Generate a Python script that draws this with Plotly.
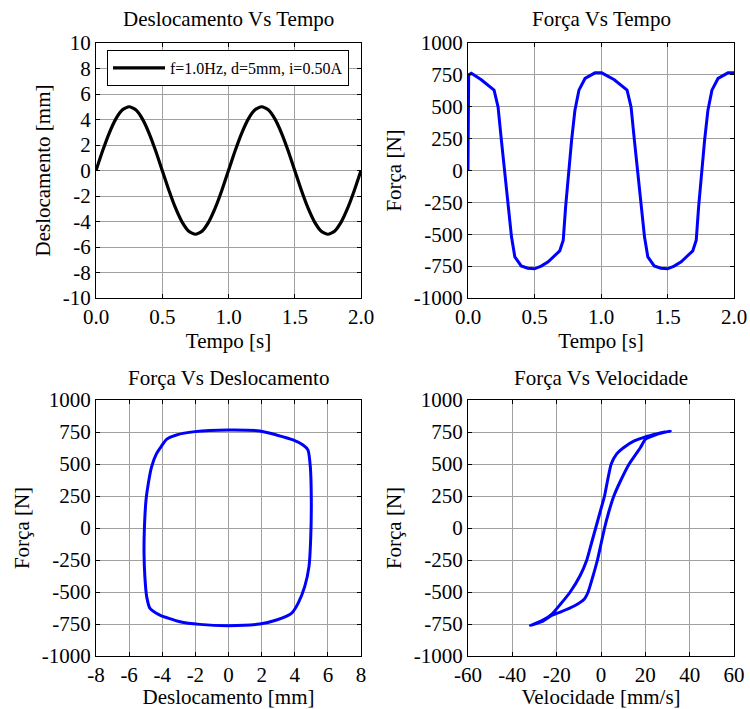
import plotly.graph_objects as go

# ---------------- data ----------------
disp_time_s = [0.00, 0.05, 0.10, 0.15, 0.20, 0.25, 0.30, 0.35, 0.40, 0.45,
               0.50, 0.55, 0.60, 0.65, 0.70, 0.75, 0.80, 0.85, 0.90, 0.95,
               1.00, 1.05, 1.10, 1.15, 1.20, 1.25, 1.30, 1.35, 1.40, 1.45,
               1.50, 1.55, 1.60, 1.65, 1.70, 1.75, 1.80, 1.85, 1.90, 1.95, 2.00]
disp_mm = [0.0, 1.55, 2.94, 4.05, 4.76, 5.00, 4.76, 4.05, 2.94, 1.55,
           0.0, -1.55, -2.94, -4.05, -4.76, -5.00, -4.76, -4.05, -2.94, -1.55,
           0.0, 1.55, 2.94, 4.05, 4.76, 5.00, 4.76, 4.05, 2.94, 1.55,
           0.0, -1.55, -2.94, -4.05, -4.76, -5.00, -4.76, -4.05, -2.94, -1.55, 0.0]

force_time_s = [0.000, 0.005, 0.025, 0.100, 0.196, 0.226, 0.251, 0.276, 0.300, 0.327,
                0.352, 0.400, 0.450, 0.500, 0.550, 0.603, 0.690, 0.716, 0.734, 0.754,
                0.779, 0.804, 0.834, 0.880, 0.955, 1.005, 1.100, 1.196, 1.226, 1.251,
                1.276, 1.300, 1.327, 1.352, 1.400, 1.450, 1.500, 1.550, 1.603, 1.690,
                1.716, 1.734, 1.754, 1.779, 1.804, 1.834, 1.880, 1.955, 2.000]
force_N = [0, 750, 762, 712, 630, 499, 238, -24, -285, -520,
           -677, -748, -766, -771, -750, -716, -630, -546, -285, -24,
           238, 473, 630, 722, 766, 766, 712, 630, 499, 238,
           -24, -285, -520, -677, -748, -766, -771, -750, -716, -630,
           -546, -285, -24, 238, 473, 630, 722, 766, 766]

loop_disp_mm = [0, 1.89, 2.89, 3.9, 4.5, 4.8, 4.94, 5.0, 4.96, 4.86,
                4.6, 4.2, 3.8, 2.9, 1.89, 0, -1.73, -2.93, -4.14, -4.74,
                -4.94, -5.05, -5.1, -5.08, -4.98, -4.84, -4.64, -4.34, -4.04, -3.74,
                -3.14, -2.03, 0]
loop_force_N = [766, 758, 727, 688, 648, 609, 479, 219, -94, -302,
                -458, -589, -667, -719, -750, -763, -753, -732, -680, -628,
                -536, -380, -198, -10, 219, 349, 479, 583, 641, 693,
                727, 753, 766]

vel_mm_s = [31.3, 25.0, 20.0, 15.0, 10.3, 7.0, 4.6, 3.0, 1.6, -0.4,
            -2.4, -4.4, -6.4, -9.5, -13.9, -18.5, -22.0, -26.0, -31.8, -26.0,
            -22.6, -18.1, -12.1, -7.6, -5.8, -3.6, -1.6, 0.0, 1.6, 3.5,
            5.8, 9.0, 12.7, 17.8, 20.1, 25.3, 31.3]
vel_force_N = [758, 735, 712, 680, 629, 577, 500, 375, 250, 125,
               0, -125, -250, -375, -500, -600, -670, -718, -763, -725,
               -686, -655, -609, -557, -500, -375, -250, -125, 0, 125,
               250, 375, 500, 629, 694, 732, 758]

# tick labels
time_ticks = [0.0, 0.5, 1.0, 1.5, 2.0]
time_labels = ["0.0", "0.5", "1.0", "1.5", "2.0"]
disp_ticks = [-10, -8, -6, -4, -2, 0, 2, 4, 6, 8, 10]
disp_labels = ["-10", "-8", "-6", "-4", "-2", "0", "2", "4", "6", "8", "10"]
force_ticks = [-1000, -750, -500, -250, 0, 250, 500, 750, 1000]
force_labels = ["-1000", "-750", "-500", "-250", "0", "250", "500", "750", "1000"]
dispx_ticks = [-8, -6, -4, -2, 0, 2, 4, 6, 8]
dispx_labels = ["-8", "-6", "-4", "-2", "0", "2", "4", "6", "8"]
vel_ticks = [-60, -40, -20, 0, 20, 40, 60]
vel_labels = ["-60", "-40", "-20", "0", "20", "40", "60"]

legend_label = "f=1.0Hz, d=5mm, i=0.50A"
titles = ["Deslocamento Vs Tempo", "Força Vs Tempo",
          "Força Vs Deslocamento", "Força Vs Velocidade"]

# ---------------- figure ----------------
FONT = "Liberation Serif"
W, H = 750, 709
ML, MR, MT, MB = 96, 16, 43, 53
PW, PH = W - ML - MR, H - MT - MB


def px_x(p):
    return (p - ML) / PW


def px_y(p):
    return (H - MB - p) / PH


fig = go.Figure()

blue = "#0000ff"
fig.add_trace(go.Scatter(x=disp_time_s, y=disp_mm, mode="lines", name=legend_label,
                         line=dict(color="black", width=3.2, shape="spline", smoothing=0.6),
                         xaxis="x", yaxis="y", showlegend=True))
fig.add_trace(go.Scatter(x=force_time_s, y=force_N, mode="lines",
                         line=dict(color=blue, width=3),
                         xaxis="x2", yaxis="y2", showlegend=False))
fig.add_trace(go.Scatter(x=loop_disp_mm, y=loop_force_N, mode="lines",
                         line=dict(color=blue, width=3, shape="spline", smoothing=0.6),
                         xaxis="x3", yaxis="y3", showlegend=False))
fig.add_trace(go.Scatter(x=vel_mm_s, y=vel_force_N, mode="lines",
                         line=dict(color=blue, width=3, shape="spline", smoothing=0.5),
                         xaxis="x4", yaxis="y4", showlegend=False))

tickfont = dict(family=FONT, size=21, color="black")
titlefont = dict(family=FONT, size=21, color="black")


def axis(domain, rng, tv, tt, title, anchor, standoff):
    return dict(domain=domain, range=rng, tickvals=tv, ticktext=tt,
                showgrid=True, gridcolor="#a0a0a0", gridwidth=1,
                zeroline=False, showline=True, linecolor="black", linewidth=1,
                mirror="ticks", ticks="inside", ticklen=4, tickcolor="black",
                tickfont=tickfont, anchor=anchor,
                title=dict(text=title, font=titlefont, standoff=standoff),
                automargin=False)


xl = [px_x(96), px_x(361)]
xr = [px_x(468), px_x(734)]
yt = [px_y(298), px_y(43)]
yb = [px_y(656), px_y(400)]

fig.update_layout(
    width=W, height=H,
    margin=dict(l=ML, r=MR, t=MT, b=MB),
    paper_bgcolor="white", plot_bgcolor="white",
    font=dict(family=FONT, color="black"),
    xaxis=axis(xl, [0, 2], time_ticks, time_labels, "Tempo [s]", "y", 1),
    yaxis=axis(yt, [-10, 10], disp_ticks, disp_labels, "Deslocamento [mm]", "x", 6),
    xaxis2=axis(xr, [0, 2], time_ticks, time_labels, "Tempo [s]", "y2", 1),
    yaxis2=axis(yt, [-1000, 1000], force_ticks, force_labels, "Força [N]", "x2", 6),
    xaxis3=axis(xl, [-8, 8], dispx_ticks, dispx_labels, "Deslocamento [mm]", "y3", 1),
    yaxis3=axis(yb, [-1000, 1000], force_ticks, force_labels, "Força [N]", "x3", 6),
    xaxis4=axis(xr, [-60, 60], vel_ticks, vel_labels, "Velocidade [mm/s]", "y4", 1),
    yaxis4=axis(yb, [-1000, 1000], force_ticks, force_labels, "Força [N]", "x4", 6),
    legend=dict(x=px_x(107), y=px_y(50), xanchor="left", yanchor="top",
                bgcolor="white", bordercolor="black", borderwidth=1,
                font=dict(family=FONT, size=16, color="black"),
                itemwidth=52, tracegroupgap=0),
    showlegend=True,
)

title_pos = [((96 + 361) / 2, 19), ((468 + 734) / 2, 19),
             ((96 + 361) / 2, 378), ((468 + 734) / 2, 378)]
for t, (cx, cy) in zip(titles, title_pos):
    fig.add_annotation(text=t, x=px_x(cx), y=px_y(cy), xref="paper", yref="paper",
                       showarrow=False, xanchor="center", yanchor="middle",
                       font=dict(family=FONT, size=21, color="black"))

fig.write_html("out.html", config={"displayModeBar": False},
               post_script="document.body.style.margin='0';document.body.style.padding='0';")
